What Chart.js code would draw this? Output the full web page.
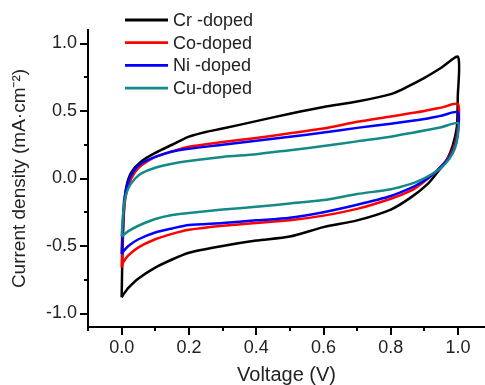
<!DOCTYPE html>
<html>
<head>
<meta charset="utf-8">
<script src="https://cdn.jsdelivr.net/npm/chart.js@4.4.1/dist/chart.umd.min.js"></script>
<style>
html,body{margin:0;padding:0;background:#fff;}
#wrap{width:485px;height:385px;position:relative;}
</style>
</head>
<body>
<div id="wrap"><canvas id="c" width="485" height="385"></canvas></div>
<script>
// ---- data (voltage V, current density mA/cm2), forward sweep then reverse sweep ----
const seriesNames = ['Cr -doped', 'Co-doped', 'Ni -doped', 'Cu-doped'];

const crV = [0,0.003,0.008,0.015,0.03,0.06,0.1,0.15,0.2,0.25,0.3,0.4,0.5,0.6,0.7,0.8,0.85,0.9,0.95,1.0,
             0.999,0.997,0.99,0.978,0.962,0.94,0.91,0.86,0.8,0.7,0.6,0.5,0.4,0.3,0.2,0.15,0.1,0.05,0.02,0.005,0];
const crI = [-0.88,-0.5,-0.2,-0.05,0.05,0.13,0.19,0.25,0.31,0.345,0.37,0.425,0.48,0.53,0.57,0.625,0.68,0.745,0.82,0.9,
             0.6,0.4,0.3,0.2,0.12,0.05,-0.04,-0.14,-0.23,-0.31,-0.36,-0.43,-0.46,-0.5,-0.55,-0.6,-0.66,-0.74,-0.81,-0.86,-0.88];

const coV = [0,0.003,0.008,0.02,0.04,0.06,0.1,0.15,0.2,0.3,0.4,0.5,0.6,0.7,0.8,0.9,0.95,1.0,
             0.998,0.99,0.975,0.95,0.92,0.89,0.86,0.8,0.7,0.6,0.5,0.4,0.3,0.2,0.15,0.1,0.05,0.02,0.005,0];
const coI = [-0.66,-0.4,-0.2,-0.05,0.05,0.1,0.16,0.2,0.235,0.27,0.3,0.335,0.37,0.42,0.46,0.5,0.525,0.55,
             0.35,0.25,0.17,0.09,0.02,-0.04,-0.09,-0.15,-0.225,-0.275,-0.31,-0.33,-0.35,-0.38,-0.41,-0.45,-0.51,-0.57,-0.62,-0.66];

const niV = [0,0.003,0.008,0.02,0.04,0.06,0.1,0.15,0.2,0.3,0.4,0.5,0.6,0.7,0.8,0.9,0.95,1.0,
             0.998,0.99,0.975,0.95,0.92,0.89,0.86,0.8,0.7,0.6,0.5,0.4,0.3,0.2,0.15,0.1,0.05,0.02,0.005,0];
const niI = [-0.56,-0.35,-0.15,-0.02,0.07,0.115,0.16,0.2,0.22,0.25,0.28,0.31,0.34,0.375,0.405,0.44,0.465,0.49,
             0.32,0.23,0.16,0.09,0.02,-0.03,-0.07,-0.13,-0.195,-0.25,-0.29,-0.31,-0.33,-0.345,-0.37,-0.4,-0.45,-0.5,-0.54,-0.56];

const cuV = [0,0.005,0.01,0.02,0.04,0.06,0.1,0.15,0.2,0.3,0.4,0.5,0.6,0.7,0.8,0.9,0.95,1.0,
             0.998,0.99,0.975,0.95,0.92,0.89,0.86,0.8,0.7,0.6,0.5,0.4,0.3,0.2,0.15,0.1,0.05,0.02,0.005,0];
const cuI = [-0.43,-0.25,-0.15,-0.07,0.0,0.04,0.08,0.11,0.13,0.16,0.18,0.21,0.24,0.275,0.31,0.355,0.38,0.41,
             0.3,0.22,0.15,0.08,0.03,-0.01,-0.04,-0.08,-0.115,-0.16,-0.185,-0.21,-0.23,-0.255,-0.27,-0.3,-0.35,-0.39,-0.42,-0.43];

const xTicks = [0.0, 0.2, 0.4, 0.6, 0.8, 1.0];
const xMinorTicks = [-0.1, 0.1, 0.3, 0.5, 0.7, 0.9];
const yTicks = [-1.0, -0.5, 0.0, 0.5, 1.0];
const yMinorTicks = [-0.75, -0.25, 0.25, 0.75];

// ---- styling ----
const colors = ['#000000', '#ff0000', '#0000ff', '#138a87'];
const voltages = [crV, coV, niV, cuV];
const currents = [crI, coI, niI, cuI];

Chart.defaults.font.family = "'Liberation Sans', Arial, sans-serif";
Chart.defaults.color = '#222';

const datasets = seriesNames.map((name, i) => ({
  label: name,
  data: voltages[i].map((v, k) => ({x: v, y: currents[i][k]})),
  showLine: true,
  borderColor: colors[i],
  backgroundColor: colors[i],
  borderWidth: 2.5,
  pointRadius: 0,
  tension: 0.25,
  fill: false,
  order: 4 - i
}));

const extras = {
  id: 'extras',
  afterDraw(chart) {
    const ctx = chart.ctx;
    const ca = chart.chartArea;
    const xs = chart.scales.x, ys = chart.scales.y;
    ctx.save();
    ctx.strokeStyle = '#000';
    ctx.lineWidth = 2;
    ctx.beginPath();
    xMinorTicks.forEach(v => {
      const p = Math.round(xs.getPixelForValue(v));
      ctx.moveTo(p, ca.bottom); ctx.lineTo(p, ca.bottom + 4);
    });
    yMinorTicks.forEach(v => {
      const p = Math.round(ys.getPixelForValue(v));
      ctx.moveTo(ca.left - 4, p); ctx.lineTo(ca.left, p);
    });
    ctx.stroke();
    // legend
    const lx0 = 125, lx1 = 168, tx = 173, y0 = 20, dy = 22.7;
    ctx.font = "18px 'Liberation Sans', Arial, sans-serif";
    ctx.textBaseline = 'middle';
    ctx.textAlign = 'left';
    chart.data.datasets.forEach((ds, i) => {
      const y = y0 + i * dy;
      ctx.strokeStyle = ds.borderColor;
      ctx.lineWidth = 2.8;
      ctx.beginPath(); ctx.moveTo(lx0, y); ctx.lineTo(lx1, y); ctx.stroke();
      ctx.fillStyle = '#222';
      ctx.fillText(ds.label, tx, y + 1);
    });
    ctx.restore();
  }
};

new Chart(document.getElementById('c'), {
  type: 'scatter',
  data: { datasets },
  options: {
    responsive: false,
    animation: false,
    layout: { padding: { top: 30, right: 0, left: 0, bottom: 0 } },
    plugins: { legend: { display: false }, tooltip: { enabled: false } },
    scales: {
      x: {
        type: 'linear', min: -0.1, max: 1.08,
        afterBuildTicks: s => { s.ticks = xTicks.map(v => ({ value: v })); },
        afterFit: s => { s.height = 58; },
        ticks: { callback: v => Number(v).toFixed(1), font: { size: 18 }, padding: 2, maxRotation: 0, color: '#222' },
        grid: { drawOnChartArea: false, tickLength: 8, lineWidth: 2, color: '#000' },
        border: { display: true, width: 2, color: '#000' },
        title: { display: true, text: 'Voltage (V)', font: { size: 20, lineHeight: 1 }, padding: { top: 0, bottom: 0 }, color: '#222' }
      },
      y: {
        type: 'linear', min: -1.1, max: 1.1,
        afterBuildTicks: s => { s.ticks = yTicks.map(v => ({ value: v })); },
        afterFit: s => { s.width = 88; },
        ticks: { callback: v => Number(v).toFixed(1), font: { size: 18 }, padding: 3, color: '#222' },
        grid: { drawOnChartArea: false, tickLength: 8, lineWidth: 2, color: '#000' },
        border: { display: true, width: 2, color: '#000' },
        title: { display: true, text: 'Current density (mA·cm⁻²)', font: { size: 19, lineHeight: 1 }, padding: { top: 10, bottom: 0 }, color: '#222' }
      }
    }
  },
  plugins: [extras]
});
</script>
</body>
</html>
